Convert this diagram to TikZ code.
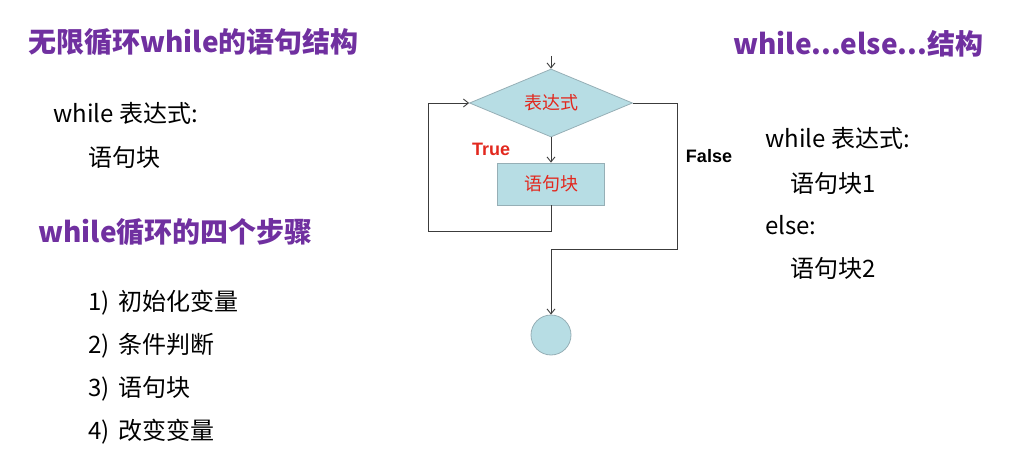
\documentclass[tikz,border=0pt]{standalone}
\usepackage{fontspec}
\setmainfont{Noto Sans CJK SC}
\newfontfamily\cjk{Noto Sans CJK SC}
\newfontfamily\arialfont{Liberation Sans}
\usetikzlibrary{shapes.geometric,arrows.meta}
\definecolor{titlepurple}{RGB}{112,48,160}
\definecolor{boxfill}{RGB}{183,221,228}
\definecolor{boxline}{RGB}{150,175,182}
\definecolor{labelred}{RGB}{226,40,30}
\definecolor{lineg}{RGB}{60,60,60}
\begin{document}
\begin{tikzpicture}[x=1pt,y=-1pt,
  title/.style={anchor=west,inner sep=0pt,text=titlepurple,font=\cjk\bfseries\fontsize{28}{32}\selectfont},
  body/.style={anchor=west,inner sep=0pt,font=\cjk\fontsize{24}{28}\selectfont},
  flow/.style={draw=lineg,line width=0.9pt},
  arr/.style={flow,-{Straight Barb[length=5pt,width=8pt]}},
  boxtext/.style={text=labelred,font=\cjk\fontsize{18}{22}\selectfont}]
\useasboundingbox (0,0) rectangle (1014,468);
% left column
\node[title] (t1) at (28,42) {无限循环while的语句结构};
\node[body] (l1) at (53,113) {while 表达式:};
\node[body] (l2) at (88,157) {语句块};
\node[title] (t2) at (38,232) {while循环的四个步骤};
\node[body] (s1) at (88,303) {1)\, 初始化变量};
\node[body] (s2) at (88,346) {2)\, 条件判断};
\node[body] (s3) at (88,389) {3)\, 语句块};
\node[body] (s4) at (88,432) {4)\, 改变变量};
% right column
\node[title] (t3) at (733,44) {while...else...结构};
\node[body] (r1) at (765,138) {while 表达式:};
\node[body] (r2) at (790,183) {语句块1};
\node[body] (r3) at (765,225) {else:};
\node[body] (r4) at (790,268) {语句块2};
% flowchart
\coordinate (entry) at (551,56);
\node[diamond,draw=boxline,fill=boxfill,line width=0.8pt,minimum width=163pt,minimum height=68pt,inner sep=0pt,aspect=2.4] (cond) at (551,103) {};
\node[boxtext] (condtext) at (cond.center) {表达式};
\node[rectangle,draw=boxline,fill=boxfill,line width=0.8pt,minimum width=107pt,minimum height=42pt,inner sep=0pt] (blk) at (551,184) {};
\node[boxtext] (blktext) at (blk.center) {语句块};
\node[circle,draw=boxline,fill=boxfill,line width=0.8pt,minimum size=40pt,inner sep=0pt] (endc) at (551,335) {};
\node[text=labelred,font=\arialfont\bfseries\fontsize{18}{22}\selectfont] (truel) at (491,149) {True};
\node[font=\arialfont\bfseries\fontsize{18}{22}\selectfont] (falsel) at (709,156) {False};
\draw[arr] (entry) -- (cond.north);
\draw[arr] (cond.south) -- (blk.north);
\draw[arr] (blk.south) -- ++(0,26) -| (428,103) -- (cond.west);
\draw[arr] (cond.east) -| (677,249) -| (endc.north);
\end{tikzpicture}
\end{document}
